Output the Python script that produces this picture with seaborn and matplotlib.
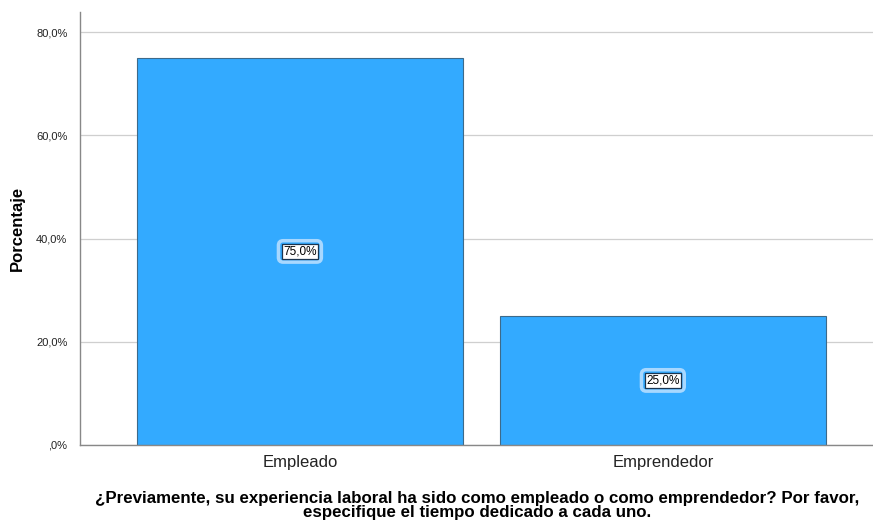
import matplotlib.pyplot as plt
import seaborn as sns
import pandas as pd
from matplotlib.ticker import FuncFormatter

# data
categories = ["Empleado", "Emprendedor"]
percentages = [75.0, 25.0]
y_ticks = [0, 20, 40, 60, 80]

df = pd.DataFrame({"categoria": categories, "porcentaje": percentages})

sns.set_style("white")
plt.rcParams["font.family"] = ["Liberation Sans", "DejaVu Sans"]

bar_color = "#33aaff"
edge_color = "#3d6a8a"
grid_color = "#cfcfcf"

fig = plt.figure(figsize=(8.73, 5.21), dpi=100)
ax = fig.add_axes([0.0916, 0.146, 0.9084, 0.831])

sns.barplot(data=df, x="categoria", y="porcentaje", color=bar_color,
            edgecolor=edge_color, linewidth=0.8, width=0.9, saturation=1, ax=ax)

ax.set_xlim(-0.606, 1.579)
ax.set_ylim(0, 83.9)
ax.set_yticks(y_ticks)


def pct_fmt(v, pos):
    s = f"{v:.1f}".replace(".", ",")
    if s.startswith("0,"):
        s = s[1:]
    return s + "%"


ax.yaxis.set_major_formatter(FuncFormatter(pct_fmt))
ax.yaxis.grid(True, color=grid_color, linewidth=0.9)
ax.set_axisbelow(True)
ax.tick_params(axis="y", length=0, labelsize=8, colors="#222222", pad=9)
ax.tick_params(axis="x", length=0, labelsize=12, colors="#222222", pad=7)

for side in ["top", "right"]:
    ax.spines[side].set_visible(False)
for side in ["left", "bottom"]:
    ax.spines[side].set_color("#888888")
    ax.spines[side].set_linewidth(1)

ax.set_xlabel("")
ax.set_ylabel("Porcentaje", fontsize=12, fontweight="bold", labelpad=8, color="black")

labels = [pct_fmt(v, None) for v in percentages]
# glow box underneath, then the real label
ax.bar_label(ax.containers[0], labels=labels, label_type="center", fontsize=8.5, color="none",
             bbox=dict(boxstyle="round,pad=0.4", facecolor="none", edgecolor="#a8d8ff", linewidth=2.5))
ax.bar_label(ax.containers[0], labels=labels, label_type="center", fontsize=8.5, color="black",
             bbox=dict(boxstyle="square,pad=0.12", facecolor="white", edgecolor="#1a3550", linewidth=0.9))

fig.text(0.547, 0.03,
         "¿Previamente, su experiencia laboral ha sido como empleado o como emprendedor? Por favor,\n"
         "especifique el tiempo dedicado a cada uno.",
         ha="center", va="center", fontsize=12.2, fontweight="bold", linespacing=0.92, color="black")

fig.savefig("out.png", dpi=100)
